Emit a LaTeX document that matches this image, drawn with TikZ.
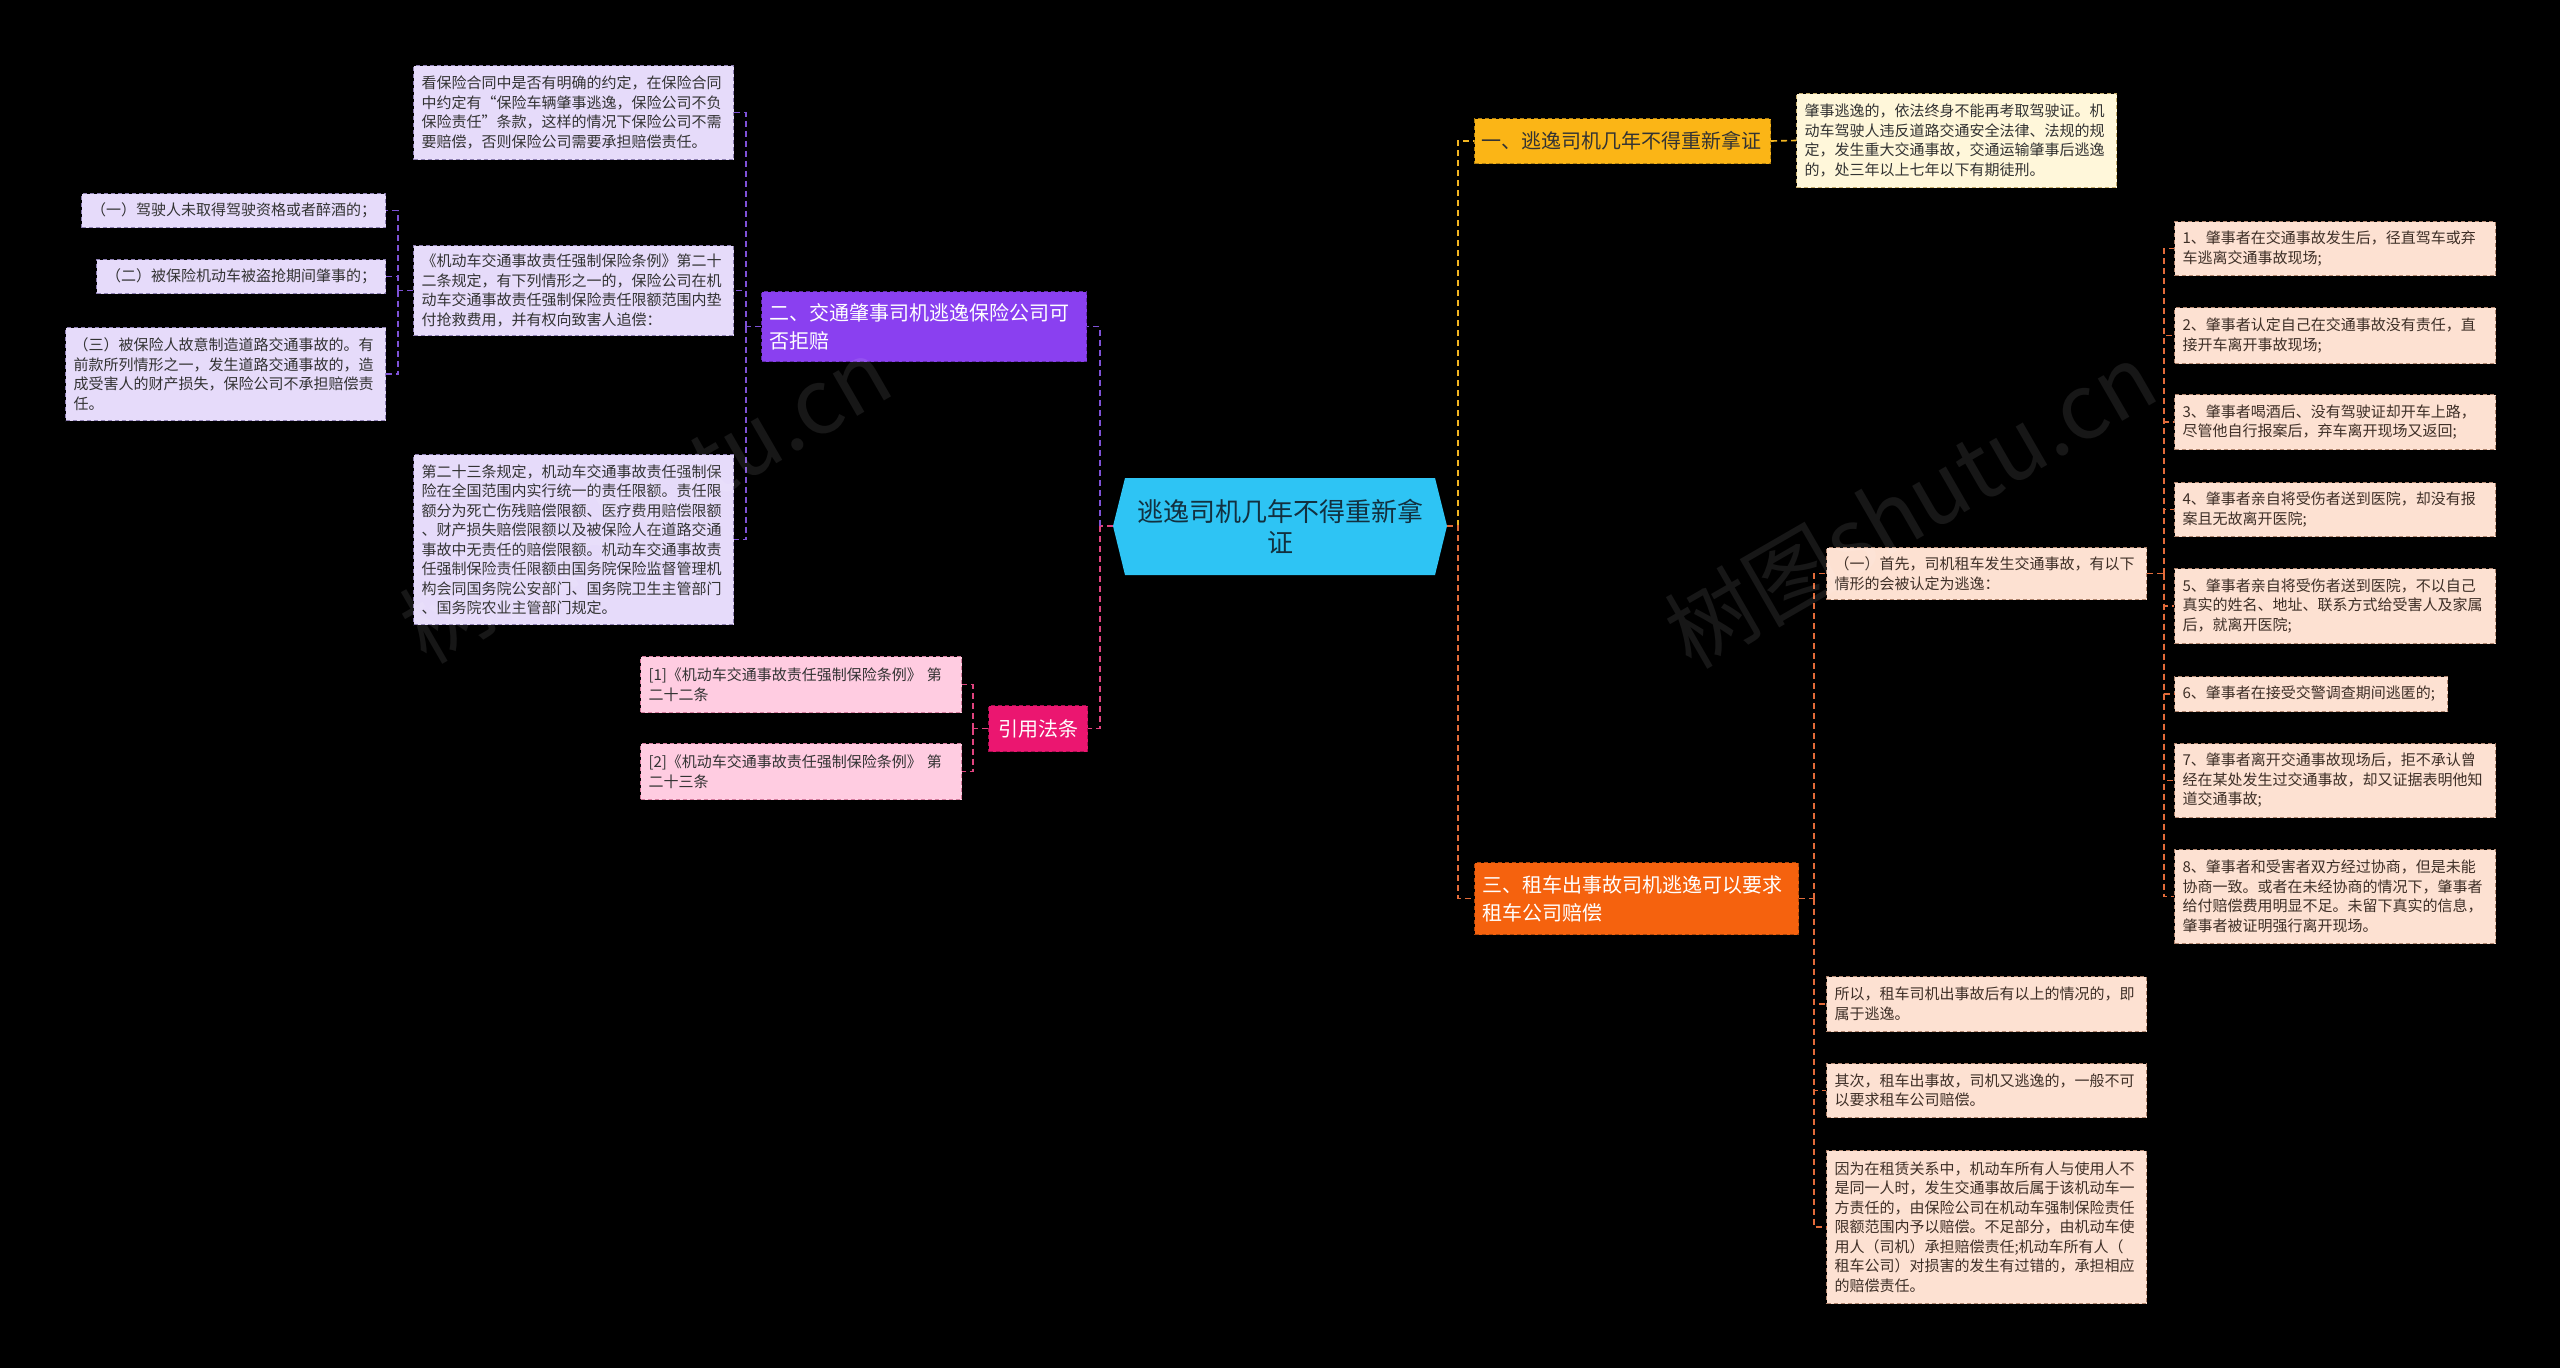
\documentclass[tikz,border=0pt]{standalone}
\usepackage{fontspec}
\setmainfont{Noto Sans CJK SC}
\usetikzlibrary{calc}
\definecolor{bg}{HTML}{000000}
\definecolor{cfill}{HTML}{2EC4F4}
\definecolor{ctext}{HTML}{12303F}
\definecolor{purp}{HTML}{8A40F0}
\definecolor{purpline}{HTML}{7E52D6}
\definecolor{lavfill}{HTML}{E6DBFA}
\definecolor{lavdraw}{HTML}{8E80B2}
\definecolor{pinkb}{HTML}{EB1670}
\definecolor{pinkline}{HTML}{E0437F}
\definecolor{pinkfill}{HTML}{FFCCE1}
\definecolor{pinkdraw}{HTML}{D47C9E}
\definecolor{yelb}{HTML}{FBB516}
\definecolor{yelline}{HTML}{F2B622}
\definecolor{yelfill}{HTML}{FFF7DA}
\definecolor{yeldraw}{HTML}{C4AC6C}
\definecolor{orab}{HTML}{F5620E}
\definecolor{oraline}{HTML}{E36B3A}
\definecolor{peach}{HTML}{FDE1D2}
\definecolor{peachdraw}{HTML}{B0856E}
\definecolor{txt}{HTML}{333333}
\definecolor{ptxt}{HTML}{3E2F27}
\tikzset{
  leaf/.style={draw, dash pattern=on 4pt off 3pt, line width=1pt, anchor=north west,
    inner xsep=8pt, inner ysep=0pt, align=left, font=\fontsize{15}{19.5}\selectfont},
  leafP/.style={leaf, fill=lavfill, draw=lavdraw, text=txt},
  leafK/.style={leaf, fill=pinkfill, draw=pinkdraw, text=txt},
  leafY/.style={leaf, fill=yelfill, draw=yeldraw, text=txt},
  leafO/.style={leaf, fill=peach, draw=peachdraw, text=ptxt},
  branch/.style={draw, dash pattern=on 4pt off 3pt, line width=1pt, anchor=north west,
    inner xsep=8pt, inner ysep=0pt, align=left, font=\fontsize{20}{28}\selectfont},
  conn/.style={dash pattern=on 6pt off 4pt, line width=1.6pt},
  connP/.style={conn, draw=purpline},
  connK/.style={conn, draw=pinkline},
  connY/.style={conn, draw=yelline},
  connO/.style={conn, draw=oraline},
  wmark/.style={rotate=30, font=\fontsize{90}{90}\selectfont, text=white, opacity=0.09}
}
\begin{document}
\begin{tikzpicture}[x=1pt,y=-1pt]
\fill[bg] (0,0) rectangle (2560,1368);
\useasboundingbox (0,0) rectangle (2560,1368);

% central node
\fill[cfill] (1113,526) -- (1125,478) -- (1435,478) -- (1447,526) -- (1435,575) -- (1125,575) -- cycle;
\node[font=\fontsize{26}{31}\selectfont, text=ctext, align=center, minimum width=334pt,
  minimum height=97pt, inner sep=0pt] (center) at (1280,526) {逃逸司机几年不得重新拿\\证};

% ---------- left: branch two ----------
\node[branch, fill=purp, draw=purp!70!black, text=white, text width=309pt, minimum height=70pt] (P) at (761,291)
  {二、交通肇事司机逃逸保险公司可\\否拒赔};

\node[leafP, text width=304pt, minimum height=94pt] (A) at (413,65)
  {看保险合同中是否有明确的约定，在保险合同\\中约定有“保险车辆肇事逃逸，保险公司不负\\保险责任”条款，这样的情况下保险公司不需\\要赔偿，否则保险公司需要承担赔偿责任。};
\node[leafP, text width=304pt, minimum height=90pt] (B) at (413,245)
  {《机动车交通事故责任强制保险条例》第二十\\二条规定，有下列情形之一的，保险公司在机\\动车交通事故责任强制保险责任限额范围内垫\\付抢救费用，并有权向致害人追偿：};
\node[leafP, text width=304pt, minimum height=170pt] (C) at (413,454)
  {第二十三条规定，机动车交通事故责任强制保\\险在全国范围内实行统一的责任限额。责任限\\额分为死亡伤残赔偿限额、医疗费用赔偿限额\\、财产损失赔偿限额以及被保险人在道路交通\\事故中无责任的赔偿限额。机动车交通事故责\\任强制保险责任限额由国务院保险监督管理机\\构会同国务院公安部门、国务院卫生主管部门\\、国务院农业主管部门规定。};

\node[leafP, align=center, text width=288pt, minimum height=34pt] (L1) at (81,193)
  {（一）驾驶人未取得驾驶资格或者醉酒的；};
\node[leafP, align=center, text width=273pt, minimum height=34pt] (L2) at (96,259)
  {（二）被保险机动车被盗抢期间肇事的；};
\node[leafP, text width=304pt, minimum height=93pt] (L3) at (65,327)
  {（三）被保险人故意制造道路交通事故的。有\\前款所列情形之一，发生道路交通事故的，造\\成受害人的财产损失，保险公司不承担赔偿责\\任。};

% ---------- left: citations ----------
\node[branch, fill=pinkb, draw=pinkb!70!black, text=white, align=center, text width=83pt, minimum height=46pt] (K) at (988,705)
  {引用法条};
\node[leafK, text width=305pt, minimum height=56pt] (R1) at (640,656)
  {[1]《机动车交通事故责任强制保险条例》 第\\二十二条};
\node[leafK, text width=305pt, minimum height=56pt] (R2) at (640,743)
  {[2]《机动车交通事故责任强制保险条例》 第\\二十三条};

% ---------- right: branch one ----------
\node[branch, fill=yelb, draw=yelb!70!black, text=txt, inner xsep=7pt, text width=282pt, minimum height=45pt] (Yb) at (1474,118)
  {一、逃逸司机几年不得重新拿证};
\node[leafY, text width=304pt, minimum height=94pt] (Yl) at (1796,93)
  {肇事逃逸的，依法终身不能再考取驾驶证。机\\动车驾驶人违反道路交通安全法律、法规的规\\定，发生重大交通事故，交通运输肇事后逃逸\\的，处三年以上七年以下有期徒刑。};

% ---------- right: branch three ----------
\node[branch, fill=orab, draw=orab!70!black, text=white, text width=308pt, minimum height=72pt] (O) at (1474,862)
  {三、租车出事故司机逃逸可以要求\\租车公司赔偿};
\node[leafO, text width=304pt, minimum height=52pt] (F) at (1826,547)
  {（一）首先，司机租车发生交通事故，有以下\\情形的会被认定为逃逸：};
\node[leafO, text width=304pt, minimum height=55pt] (S1) at (1826,976)
  {所以，租车司机出事故后有以上的情况的，即\\属于逃逸。};
\node[leafO, text width=304pt, minimum height=54pt] (S2) at (1826,1063)
  {其次，租车出事故，司机又逃逸的，一般不可\\以要求租车公司赔偿。};
\node[leafO, text width=304pt, minimum height=153pt] (S3) at (1826,1150)
  {因为在租赁关系中，机动车所有人与使用人不\\是同一人时，发生交通事故后属于该机动车一\\方责任的，由保险公司在机动车强制保险责任\\限额范围内予以赔偿。不足部分，由机动车使\\用人（司机）承担赔偿责任;机动车所有人（\\租车公司）对损害的发生有过错的，承担相应\\的赔偿责任。};

\node[leafO, text width=305pt, minimum height=54pt] (I1) at (2174,221)
  {1、肇事者在交通事故发生后，径直驾车或弃\\车逃离交通事故现场;};
\node[leafO, text width=305pt, minimum height=56pt] (I2) at (2174,307)
  {2、肇事者认定自己在交通事故没有责任，直\\接开车离开事故现场;};
\node[leafO, text width=305pt, minimum height=55pt] (I3) at (2174,394)
  {3、肇事者喝酒后、没有驾驶证却开车上路，\\尽管他自行报案后，弃车离开现场又返回;};
\node[leafO, text width=305pt, minimum height=54pt] (I4) at (2174,482)
  {4、肇事者亲自将受伤者送到医院，却没有报\\案且无故离开医院;};
\node[leafO, text width=305pt, minimum height=75pt] (I5) at (2174,568)
  {5、肇事者亲自将受伤者送到医院，不以自己\\真实的姓名、地址、联系方式给受害人及家属\\后，就离开医院;};
\node[leafO, text width=257pt, minimum height=35pt] (I6) at (2174,676)
  {6、肇事者在接受交警调查期间逃匿的;};
\node[leafO, text width=305pt, minimum height=74pt] (I7) at (2174,743)
  {7、肇事者离开交通事故现场后，拒不承认曾\\经在某处发生过交通事故，却又证据表明他知\\道交通事故;};
\node[leafO, text width=305pt, minimum height=94pt] (I8) at (2174,849)
  {8、肇事者和受害者双方经过协商，但是未能\\协商一致。或者在未经协商的情况下，肇事者\\给付赔偿费用明显不足。未留下真实的信息，\\肇事者被证明强行离开现场。};

% ---------- connectors ----------
% centre to left branches
\draw[connK] (center.west) -- ++(-13,0) coordinate (cl);
\draw[connP] (cl) |- (P.east);
\draw[connK] (cl) |- (K.east);
% purple children
\draw[connP] (P.west) -- ++(-15,0) coordinate (pj);
\draw[connP] (pj) |- (A.east);
\draw[connP] (pj) |- (B.east);
\draw[connP] (pj) |- (C.east);
\draw[connP] (B.west) -- ++(-15,0) coordinate (bj);
\draw[connP] (bj) |- (L1.east);
\draw[connP] (bj) |- (L2.east);
\draw[connP] (bj) |- (L3.east);
% citations
\draw[connK] (K.west) -- ++(-15,0) coordinate (kj);
\draw[connK] (kj) |- (R1.east);
\draw[connK] (kj) |- (R2.east);
% centre to right branches
\draw[connY] (center.east) -- ++(11,0) coordinate (cr);
\draw[connY] (cr) |- (Yb.west);
\draw[connO] (center.east) -- (cr) |- (O.west);
\draw[connY] (Yb.east) -- (Yl.west);
% orange children
\draw[connO] (O.east) -- ++(15,0) coordinate (oj);
\draw[connO] (oj) |- (F.west);
\draw[connO] (oj) |- (S1.west);
\draw[connO] (oj) |- (S2.west);
\draw[connO] (oj) |- (S3.west);
\draw[connO] (F.east) -- ++(17,0) coordinate (fj);
\foreach \i in {1,...,8} { \draw[connO] (fj) |- (I\i.west); }

% watermarks
\node[wmark] (wm1) at (645,500) {树图shutu.cn};
\node[wmark] (wm2) at (1910,505) {树图shutu.cn};
\end{tikzpicture}
\end{document}
